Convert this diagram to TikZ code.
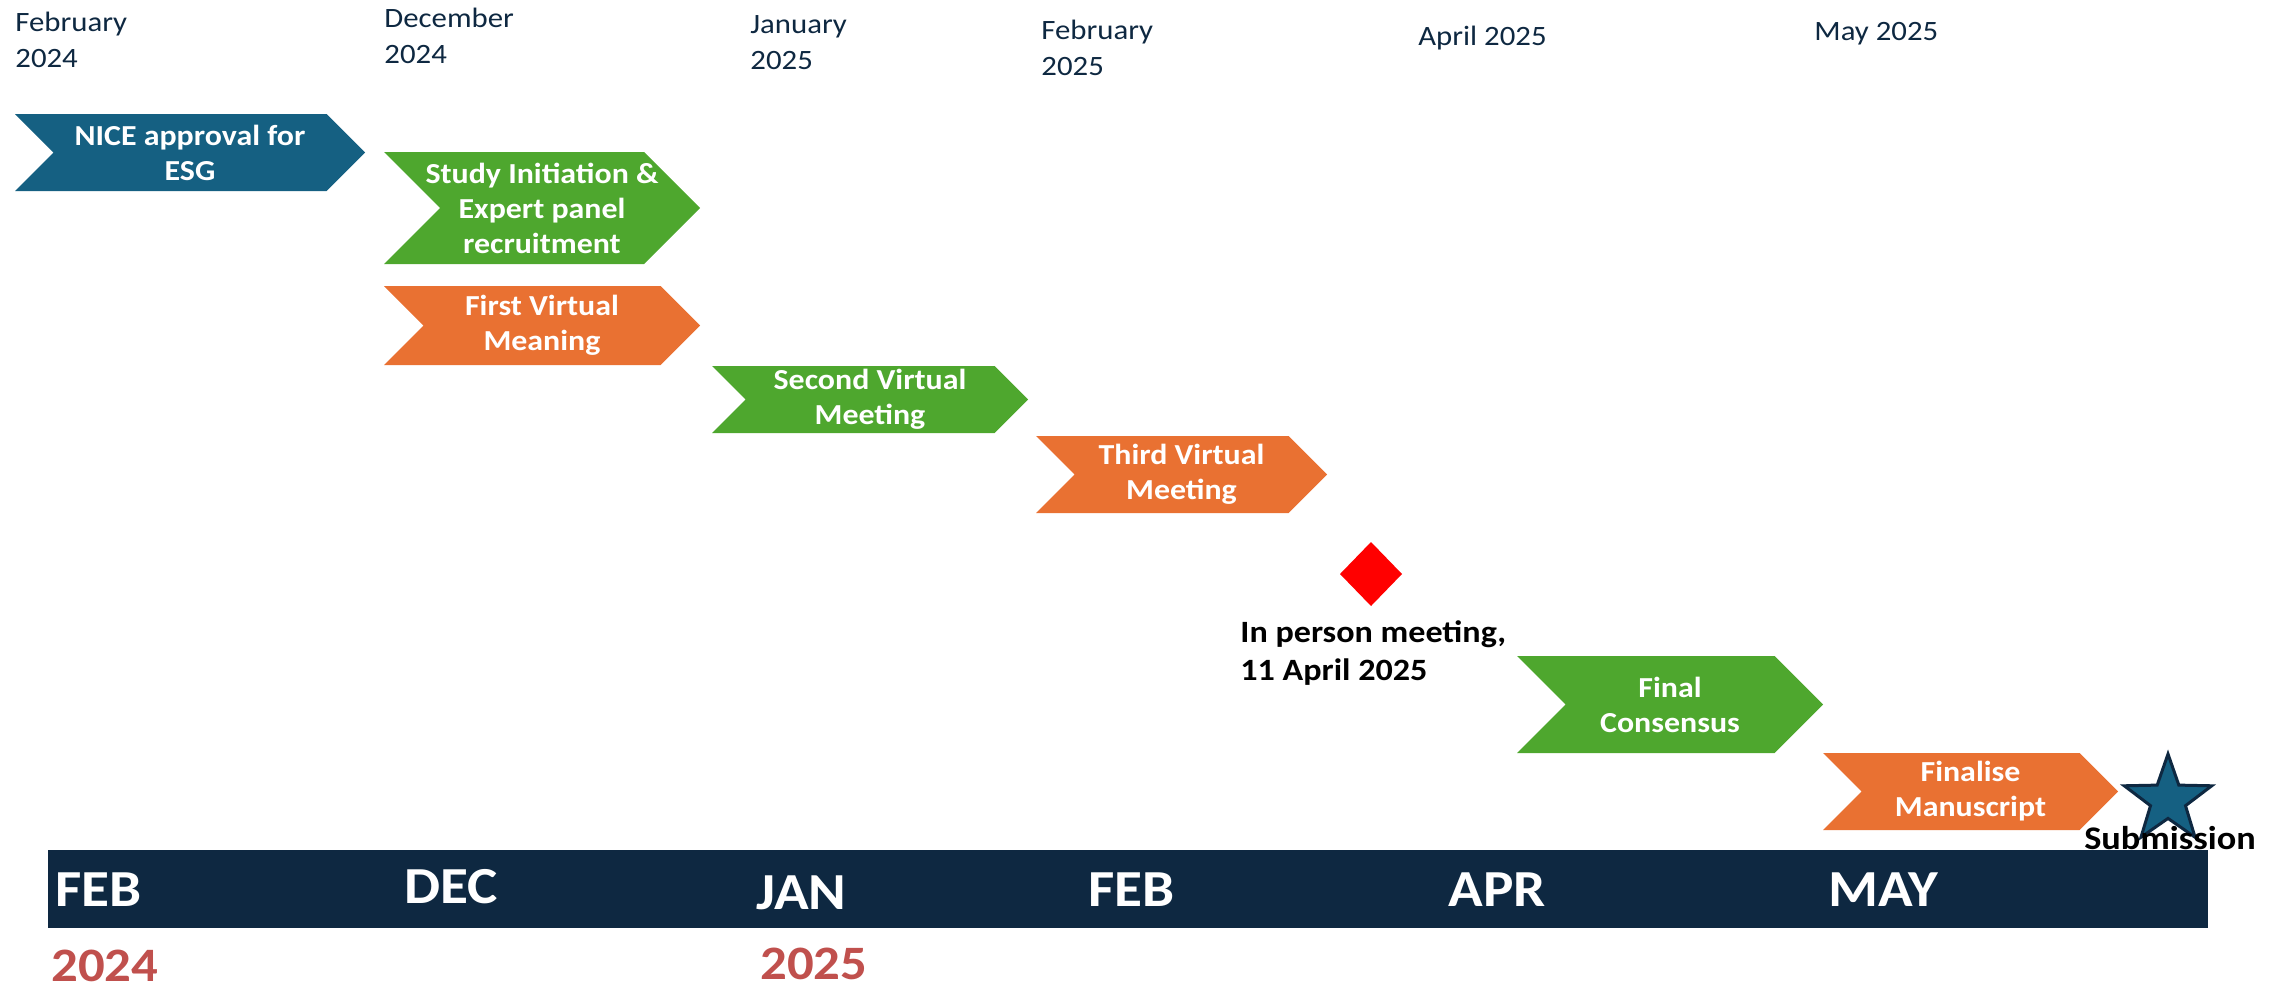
\documentclass[tikz,border=0pt]{standalone}
\usepackage{fontspec}
\setmainfont{Carlito}[FakeStretch=1.1]
\usetikzlibrary{shapes.geometric}

\definecolor{navy}{HTML}{0E2841}
\definecolor{niceblue}{HTML}{156082}
\definecolor{phorange}{HTML}{E97132}
\definecolor{phgreen}{HTML}{4EA72E}
\definecolor{yearred}{HTML}{C0504D}

\tikzset{
  datelabel/.style={anchor=north west,align=left,inner sep=0pt,text=navy,
    font=\fontsize{14}{18}\selectfont},
  phasetext/.style={align=center,inner sep=0pt,text=white,
    font=\bfseries\fontsize{14.5}{17.5}\selectfont},
  monthlabel/.style={anchor=west,inner sep=0pt,text=white,
    font=\bfseries\fontsize{26}{28}\selectfont},
  yearlabel/.style={anchor=west,inner sep=0pt,text=yearred,
    font=\bfseries\fontsize{24}{28}\selectfont},
  eventlabel/.style={align=left,inner sep=0pt,text=black,
    font=\bfseries\fontsize{15.5}{19}\selectfont},
}

%% chevron: name, left x, top y, tip x, bottom y, colour, text
\newcommand{\timephase}[7]{%
  \pgfmathsetmacro{\phd}{(#5-#3)/2}%
  \pgfmathsetmacro{\phm}{(#3+#5)/2}%
  \fill[#6] (#2,#3) -- (#4-\phd,#3) -- (#4,\phm) -- (#4-\phd,#5)
    -- (#2,#5) -- (#2+\phd,\phm) -- cycle;
  \node[phasetext] (#1) at ({(#2+#4)/2},\phm) {#7};
}

\begin{document}
\begin{tikzpicture}[x=0.5pt,y=-0.5pt]
        \useasboundingbox (0,0) rectangle (2287,991);
        %% Dates on top
        \node[datelabel] (d1) at (15,12) {February\\2024};
        \node[datelabel] (d2) at (384,8) {December\\2024};
        \node[datelabel] (d3) at (750,15) {January\\2025};
        \node[datelabel] (d4) at (1041,20) {February\\2025};
        \node[datelabel] (d5) at (1418,26) {April 2025};
        \node[datelabel] (d6) at (1814,22) {May 2025};
        %% Phases
        \timephase{nice}{15}{114}{365}{191}{niceblue}{NICE approval for\\ESG}
        \timephase{study}{384}{152}{700}{264}{phgreen}{Study Initiation \&\\Expert panel\\recruitment}
        \timephase{first}{384}{286}{700}{365}{phorange}{First Virtual\\Meaning}
        \timephase{second}{712}{366}{1028}{433}{phgreen}{Second Virtual\\Meeting}
        \timephase{third}{1036}{436}{1327}{513}{phorange}{Third Virtual\\Meeting}
        \timephase{final}{1517}{656}{1823}{753}{phgreen}{Final\\Consensus}
        \timephase{manus}{1823}{753}{2118}{830}{phorange}{Finalise\\Manuscript}
        %% In person meeting
        \fill[red] (1371,542) -- (1402,574) -- (1371,606) -- (1340,574) -- cycle;
        \node[eventlabel,anchor=north west] (meet) at (1240,620) {In person meeting,\\11 April 2025};
        %% Submission
        \node[star,star points=5,star point ratio=2.5,minimum size=46pt,inner sep=0pt,
          fill=niceblue,draw=navy,line width=1.5pt] (star) at (2168,800) {};
        \node[eventlabel,font=\bfseries\fontsize{16.5}{19}\selectfont] (sub) at (2170,838) {Submission};
        %% Bar
        \fill[navy] (48,850) rectangle (2208,928);
        \node[monthlabel] (m1) at (55,890) {FEB};
        \node[monthlabel] (m2) at (404,887) {DEC};
        \node[monthlabel] (m3) at (756,893) {JAN};
        \node[monthlabel] (m4) at (1088,890) {FEB};
        \node[monthlabel] (m5) at (1448,890) {APR};
        \node[monthlabel] (m6) at (1828,890) {MAY};
        %% Years
        \node[yearlabel] (y1) at (51,966) {2024};
        \node[yearlabel] (y2) at (760,964) {2025};
\end{tikzpicture}
\end{document}
